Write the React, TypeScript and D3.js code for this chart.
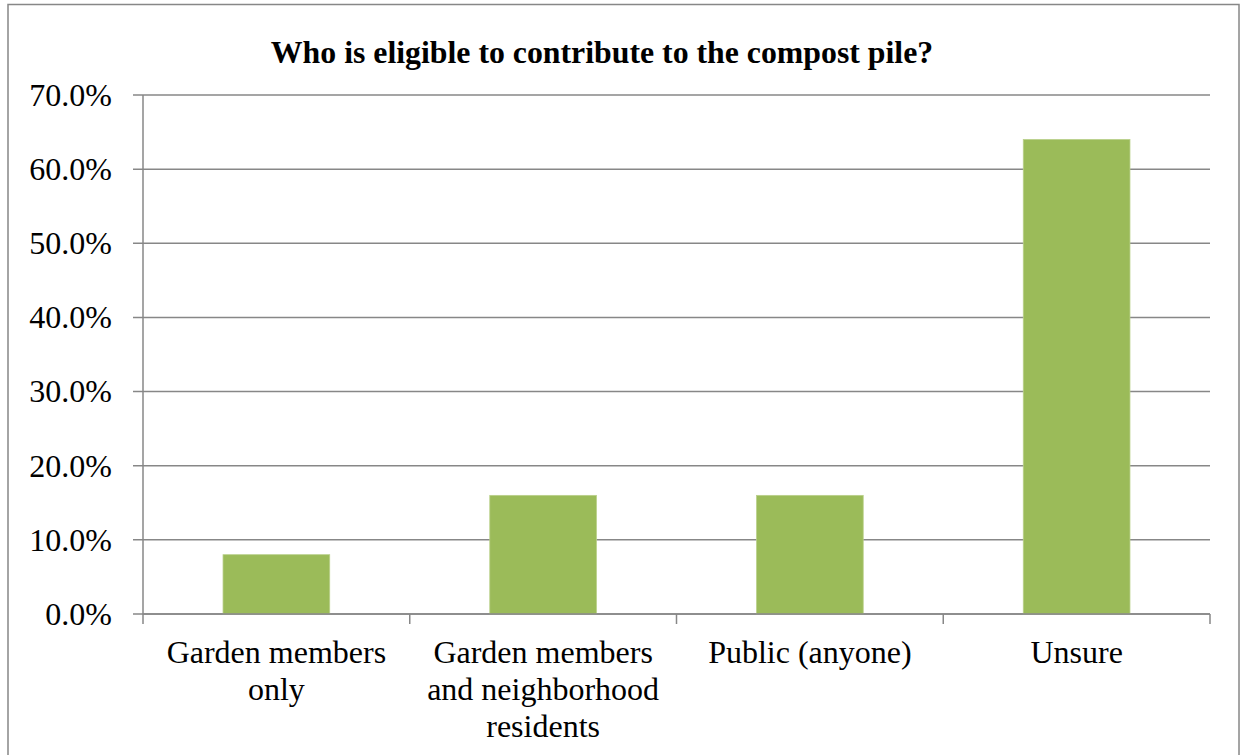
import React from "react";
import * as d3 from "d3";

const title = "Who is eligible to contribute to the compost pile?";
const categories = [
  ["Garden members", "only"],
  ["Garden members", "and neighborhood", "residents"],
  ["Public (anyone)"],
  ["Unsure"],
];
const values = [0.08, 0.16, 0.16, 0.64];
const yTicks = [0, 0.1, 0.2, 0.3, 0.4, 0.5, 0.6, 0.7];

const W = 1241, H = 755;
const left = 143, right = 1210, top = 95, bottom = 614;
const FONT = "Liberation Serif";

export default function App() {
  const x = d3.scaleBand<number>().domain(d3.range(values.length)).range([left, right]).paddingInner(0.6).paddingOuter(0.3);
  const xCat = d3.scaleBand<number>().domain(d3.range(values.length)).range([left, right]);
  const y = d3.scaleLinear().domain([0, 0.7]).range([bottom, top]);
  const fmt = d3.format(".1%");
  const grid = "#878787";
  return (
    <svg width={W} height={H} style={{ position: "absolute", left: 0, top: 0, background: "#fff" }}>
      <rect x={8} y={4.5} width={1231} height={H + 20} fill="#fff" stroke={grid} strokeWidth={1.5} />
      <text x={602} y={63} textAnchor="middle" fontFamily={FONT} fontWeight="bold" fontSize={31.8}>{title}</text>
      {yTicks.map((t) => (
        <g key={t}>
          <line x1={133} x2={right} y1={y(t)} y2={y(t)} stroke={grid} strokeWidth={1.5} />
          <text x={112} y={y(t)} dy="0.34em" textAnchor="end" fontFamily={FONT} fontSize={32}>{fmt(t)}</text>
        </g>
      ))}
      <line x1={left} x2={left} y1={top} y2={bottom} stroke={grid} strokeWidth={1.5} />
      {values.map((v, i) => (
        <rect key={i} x={x(i)} y={y(v)} width={x.bandwidth()} height={y(0) - y(v)} fill="#9BBB59" stroke="#B9D08A" strokeWidth={0.8} />
      ))}
      <line x1={left} x2={right} y1={bottom} y2={bottom} stroke={grid} strokeWidth={1.5} />
      {d3.range(values.length + 1).map((i) => {
        const xx = left + i * xCat.step();
        return <line key={i} x1={xx} x2={xx} y1={bottom} y2={bottom + 10} stroke={grid} strokeWidth={1.5} />;
      })}
      {categories.map((lines, i) => (
        <text key={i} textAnchor="middle" fontFamily={FONT} fontSize={32}>
          {lines.map((l, j) => (
            <tspan key={j} x={(xCat(i) as number) + xCat.bandwidth() / 2} y={663 + j * 37}>{l}</tspan>
          ))}
        </text>
      ))}
    </svg>
  );
}
